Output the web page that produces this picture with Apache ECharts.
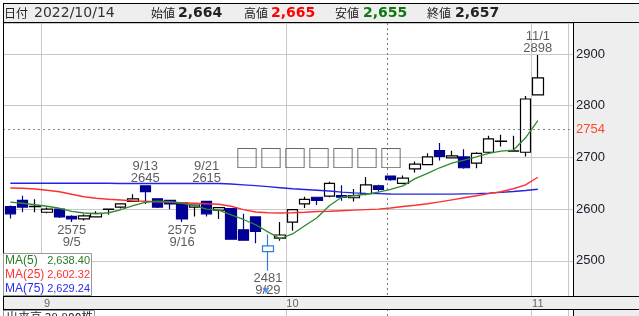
<!DOCTYPE html>
<html><head><meta charset="utf-8">
<script src="https://cdn.jsdelivr.net/npm/echarts@6/dist/echarts.min.js"></script>
<style>html,body{margin:0;padding:0;background:#fff;overflow:hidden}#c{width:639px;height:316px}</style>
</head><body><div id="c"></div>
<script>
const dates = ['8/29','8/30','8/31','9/1','9/2','9/5','9/6','9/7','9/8','9/9','9/12','9/13','9/14','9/15','9/16','9/20','9/21','9/22','9/26','9/27','9/28','9/29','9/30','10/3','10/4','10/5','10/6','10/7','10/11','10/12','10/13','10/14','10/17','10/18','10/19','10/20','10/21','10/24','10/25','10/26','10/27','10/28','10/31','11/1'];
const opens  = [2605,2617,2605,2594,2600,2586,2581,2585,2599.5,2604,2615,2645,2620,2617,2612,2604,2615,2598,2601,2560,2585,2518,2544,2575,2610,2623,2625,2626,2622,2630,2645,2664,2650,2678,2686,2713,2699,2701,2689,2710,2731,2712,2710,2821];
const closes = [2591,2604,2605.5,2600,2585,2581,2587,2592,2600,2610,2620,2634,2604,2610,2581,2608,2591,2603,2542,2540,2557,2529,2550,2599,2619,2617,2650,2623,2626,2647,2638,2657,2660,2687,2701,2702,2703,2680,2708,2736,2731.5,2712.5,2813,2854];
const lows   = [2582,2594,2594,2592,2583,2575,2578,2584,2589,2601,2614,2610,2602,2600,2575,2586,2586,2581,2541,2539,2534,2481,2539,2558,2602,2608,2623,2616,2615,2627,2634,2655,2648,2671,2685,2694,2698,2678,2679,2708,2721,2711,2702,2820];
const highs  = [2607,2626,2619,2603,2601,2588,2590,2596,2600.5,2611,2629,2645,2621,2618,2614,2609,2615,2604,2602,2591,2586,2551,2575,2600,2624,2624,2653,2646,2639,2662,2647,2665,2665,2692,2708,2728,2713,2716,2710,2742,2744,2742,2819,2898];
const ma5  = [2613.7,2611.4,2608.5,2605.6,2601.7,2595.5,2592.5,2591,2593,2598.8,2606.6,2613.3,2615.3,2614.3,2611.4,2606.6,2600.2,2597.9,2589,2580,2569.8,2556,2542.7,2552,2568,2583.4,2606.6,2623,2626,2628.8,2632.7,2638.4,2645,2659,2669,2680,2689,2694.6,2701,2708,2712,2714,2738,2771];
const ma25 = [2640.8,2640.4,2638.9,2636.6,2633.7,2628.8,2624,2621,2619,2617.6,2616,2615.3,2614.3,2613.3,2612.4,2611.4,2610.4,2609.5,2605.5,2599,2594.5,2593,2592.5,2593,2594,2595.5,2596,2597,2598,2599,2600,2602.3,2605,2607.5,2610.4,2614,2618,2622,2626,2630,2633.7,2639.5,2647,2661.7];
const ma75 = [2650,2650,2650,2650,2650,2650,2650,2650,2650,2649.5,2649.5,2649.5,2649.5,2649.5,2649.5,2649.5,2649.5,2649.5,2648.5,2647,2645.5,2643.5,2641.5,2639.5,2638,2636.5,2635,2633,2631.5,2630.5,2630,2629.2,2629,2629,2629,2629,2629,2629.5,2630,2631,2632.5,2634,2636,2638.5];
const highDates = ['9/13','9/21','11/1'];
const highValues = [2645,2615,2898];
const lowDates = ['9/5','9/16','9/29'];
const lowValues = [2575,2575,2481];
const refPrice = 2754;
const cursorDate = '10/14';
const headerDate = '2022/10/14';
const headerLabels = ['始値','高値','安値','終値'];
const headerValues = ['2,664','2,665','2,655','2,657'];
const maNames = ['MA(5)','MA(25)','MA(75)'];
const maLast = ['2,638.40','2,602.32','2,629.24'];
const volumeText = '出来高 38,800株';
const watermark = '□□□□□□□';

const chart = echarts.init(document.getElementById('c'), null, {renderer:'canvas'});
const cats = dates.concat(['','']);
const monthOf = d => d.split('/')[0];
const isMonthStart = (i) => i > 0 && i < dates.length && monthOf(cats[i]) !== monthOf(cats[i-1]);
const YMIN = 2432, YMAX = 2960;
const SLOT = 12.267, CL = 4.2;
const NAVY = '#000096', GREEN = '#2f8a2f', RED = '#ff3030', BLUE = '#2424e6', LOWBLUE = '#2f7de1';
const FONT = 'Liberation Sans, Arial, sans-serif';

const candleData = dates.map((d, i) => {
  const item = {value: [opens[i], closes[i], lows[i], highs[i]]};
  if (d === '9/29') item.itemStyle = {color: '#ffffff', borderColor: LOWBLUE, color0: '#ffffff', borderColor0: LOWBLUE};
  return item;
});

const highLabelData = highDates.map((d, i) => ({
  value: [d, highValues[i]],
  label: {offset: d === '9/21' ? [0, -16] : [0, 0], formatter: d + '\n' + highValues[i]}
}));
const lowLabelData = lowDates.map((d, i) => ({
  value: [d, lowValues[i]],
  label: {formatter: lowValues[i] + '\n' + d}
}));

const catAxis = (gi, labels) => ({
  type: 'category', gridIndex: gi, data: cats, boundaryGap: true,
  axisLine: {show: false}, axisTick: {show: false},
  splitLine: {show: true, interval: (i) => isMonthStart(i), lineStyle: {color: '#c8c8c8', width: 1}},
  axisLabel: labels ? {show: true, interval: (i) => isMonthStart(i), formatter: v => monthOf(v), color: '#666', fontSize: 11, fontFamily: FONT, margin: 2} : {show: false}
});

chart.setOption({
  animation: false,
  backgroundColor: '#ffffff',
  grid: [
    {left: 3, top: 23, width: 570, height: 273},
    {left: CL, top: 23, width: SLOT * cats.length, height: 273},
    {left: CL, top: 309, width: SLOT * cats.length, height: 7}
  ],
  xAxis: [
    {type: 'value', gridIndex: 0, min: -0.5 - (CL - 3) / SLOT, max: (573 - CL) / SLOT - 0.5, show: false},
    catAxis(1, true),
    catAxis(2, false)
  ],
  yAxis: [
    {type: 'value', gridIndex: 0, min: YMIN, max: YMAX, splitNumber: 5, position: 'right',
     axisLine: {show: false}, axisTick: {show: false},
     splitLine: {show: true, lineStyle: {color: '#c8c8c8', width: 1}},
     axisLabel: {show: true, color: '#1c1c2a', fontSize: 13, fontFamily: FONT, margin: 3, showMinLabel: false, showMaxLabel: false, formatter: v => String(v)}},
    {type: 'value', gridIndex: 1, min: YMIN, max: YMAX, show: false},
    {type: 'value', gridIndex: 2, min: 0, max: 1, show: false}
  ],
  series: [
    {type: 'line', xAxisIndex: 0, yAxisIndex: 0, data: [[0, refPrice]], showSymbol: false, symbolSize: 0, lineStyle: {width: 0},
     markLine: {silent: true, symbol: ['none', 'none'], lineStyle: {color: '#888', type: [2, 3], width: 1},
       label: {show: true, position: 'end', formatter: String(refPrice), color: '#ff4a2a', fontSize: 13, fontFamily: FONT, distance: 3},
       data: [{yAxis: refPrice}]}},
    {type: 'candlestick', xAxisIndex: 1, yAxisIndex: 1, data: candleData, barWidth: 11, z: 3,
     itemStyle: {color: '#ffffff', color0: NAVY, borderColor: '#000000', borderColor0: NAVY, borderWidth: 1.2}},
    {type: 'line', xAxisIndex: 1, yAxisIndex: 1, data: ma75, showSymbol: false, symbol: 'none', z: 4, lineStyle: {color: BLUE, width: 1.4}},
    {type: 'line', xAxisIndex: 1, yAxisIndex: 1, data: ma25, showSymbol: false, symbol: 'none', z: 4, lineStyle: {color: RED, width: 1.4}},
    {type: 'line', xAxisIndex: 1, yAxisIndex: 1, data: ma5, showSymbol: false, symbol: 'none', z: 4, lineStyle: {color: GREEN, width: 1.3}},
    {type: 'scatter', xAxisIndex: 1, yAxisIndex: 1, data: highLabelData, symbolSize: 0, z: 6,
     label: {show: true, position: 'top', distance: 1, color: '#333', fontSize: 13, lineHeight: 12, fontFamily: FONT, align: 'center'}},
    {type: 'scatter', xAxisIndex: 1, yAxisIndex: 1, data: lowLabelData, symbolSize: 0, z: 6,
     label: {show: true, position: 'bottom', distance: 2, color: '#333', fontSize: 13, lineHeight: 12, fontFamily: FONT, align: 'center'}},
    {type: 'scatter', xAxisIndex: 1, yAxisIndex: 1, data: [[lowDates[2], lowValues[2]]], symbol: 'triangle', symbolRotate: 180,
     symbolSize: [7, 6], symbolOffset: [-2, 20], z: 7, itemStyle: {color: LOWBLUE}}
  ]
});

const cursorX = Math.round(chart.convertToPixel({xAxisIndex: 1}, cursorDate) - SLOT / 3) + 0.5;
const g = [];
g.push({type: 'rect', z: -10, shape: {x: 3, y: 3, width: 640, height: 19}, style: {fill: '#eeeeee'}});
g.push({type: 'rect', z: -10, shape: {x: 573, y: 22, width: 70, height: 300}, style: {fill: '#eeeeee'}});
g.push({type: 'rect', z: -10, shape: {x: 3, y: 296, width: 640, height: 13}, style: {fill: '#eeeeee'}});
g.push({type: 'line', z: 5, shape: {x1: cursorX, y1: 23, x2: cursorX, y2: 296}, style: {stroke: '#777', lineDash: [2, 3], lineWidth: 1}});
g.push({type: 'line', z: 5, shape: {x1: cursorX, y1: 309, x2: cursorX, y2: 316}, style: {stroke: '#777', lineDash: [2, 3], lineWidth: 1}});
const L = (x1, y1, x2, y2) => g.push({type: 'line', z: 50, shape: {x1, y1, x2, y2}, style: {stroke: '#000', lineWidth: 1}});
L(3.5, 3, 3.5, 316);
L(3, 3.5, 639, 3.5);
L(3, 22.5, 639, 22.5);
L(573.5, 22, 573.5, 296);
L(573.5, 309, 573.5, 316);
L(3, 296.5, 639, 296.5);
L(3, 309.5, 639, 309.5);
const T = (x, y, text, opts) => g.push(Object.assign({type: 'text', z: 51, x, y, style: Object.assign({text, textVerticalAlign: 'middle', fill: '#222'}, opts)}));
const cjk = 'Noto Sans CJK JP';
T(4, 13, '日付', {font: '12px ' + cjk});
T(34, 13, headerDate, {font: '14px DejaVu Sans', fill: '#333'});
const hlx = [151, 244, 335, 427], hvx = [178, 271, 363, 455];
const hcol = ['#222', '#ff0000', '#117711', '#222'];
headerLabels.forEach((t, i) => {
  T(hlx[i], 13, t, {font: '12px ' + cjk});
  T(hvx[i], 13, headerValues[i], {font: 'bold 14px DejaVu Sans', fill: hcol[i]});
});
g.push({type: 'text', z: 5, x: 235, y: 158, style: {text: watermark, font: '24px ' + cjk, fill: '#666', textVerticalAlign: 'middle'}});
g.push({type: 'rect', z: 60, shape: {x: 3.5, y: 253.5, width: 88, height: 42}, style: {fill: '#fff', stroke: '#999', lineWidth: 1}});
const mcol = ['#2a7a2a', '#ff3030', '#2a2af0'];
maNames.forEach((n, i) => {
  g.push({type: 'text', z: 61, x: 5, y: 260.5 + i * 14, style: {text: n, font: '12px ' + FONT, fill: mcol[i], textVerticalAlign: 'middle'}});
  g.push({type: 'text', z: 61, x: 90, y: 260.5 + i * 14, style: {text: maLast[i], font: '11px ' + FONT, fill: mcol[i], textAlign: 'right', textVerticalAlign: 'middle'}});
});
g.push({type: 'rect', z: 60, shape: {x: 3.5, y: 310.5, width: 91, height: 14}, style: {fill: '#fff', stroke: '#999', lineWidth: 1}});
g.push({type: 'text', z: 61, x: 6, y: 311, style: {text: volumeText, font: '12px ' + cjk, fill: '#222', textVerticalAlign: 'top'}});
chart.setOption({graphic: g});
</script>
</body></html>
